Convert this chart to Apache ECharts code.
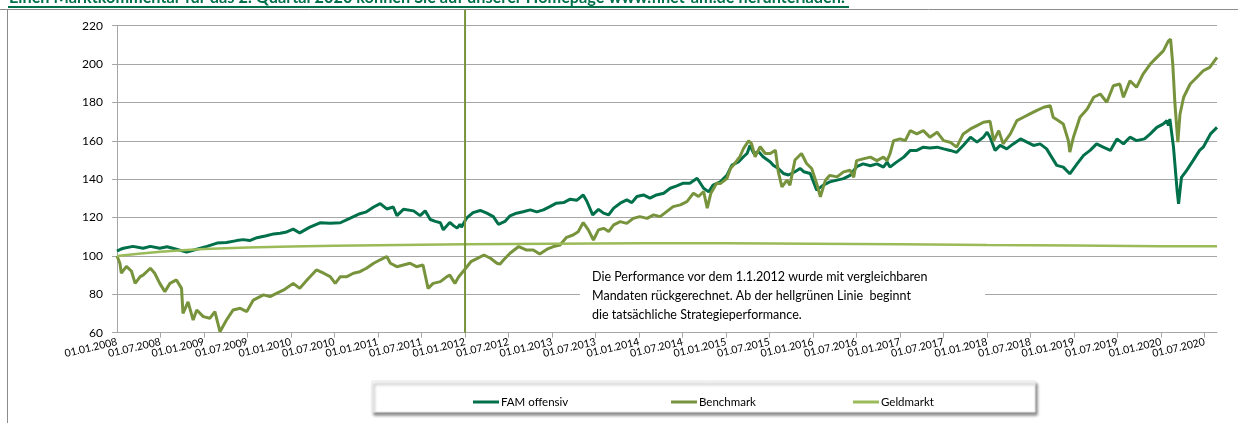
<!DOCTYPE html>
<html>
<head>
    <meta charset="utf-8">
    <title>FAM offensiv</title>
    <script type="text/javascript" src="https://cdn.jsdelivr.net/npm/echarts@6/dist/echarts.min.js"></script>
    <style type="text/css">
        html, body { margin: 0; padding: 0; background: #fff; }
        #chart { width: 1238px; height: 423px; }
    </style>
</head>
<body>
<div id="chart"></div>
<script type="text/javascript">
    // x = Monate seit 01.01.2008
    let famOffensiv = [
        [0,102.5],[0.5,103.5],[0.9,104],[2.2,105],[3.6,104],[4.6,105],[5.9,104],[6.9,104.8],[8.2,103.5],[9.6,102],
        [11,103.5],[12.4,105],[13.8,106.7],[15.1,107],[16.5,108],[17.4,108.5],[18.3,108],[19.3,109.5],[20.6,110.5],
        [21.6,111.5],[22.5,111.8],[23.4,112.5],[24.3,114],[25.2,112],[26.6,115],[28,117.3],[29.4,117],[30.8,117.3],
        [32.1,119.6],[33.5,122],[34.4,123],[35.4,125.5],[36.3,127.3],[37.2,124.5],[38.1,125.5],[38.6,121],[39.5,124.3],
        [40.9,123.5],[41.8,121],[42.5,123.5],[43.2,119],[43.9,118],[44.6,117.3],[45,113.6],[45.9,117.5],[46.4,115.8],
        [46.9,114.5],[47.3,116.5],[47.5,115],[48.2,119.7],[49.1,122.6],[50.1,123.7],[51,122.3],[51.9,120.5],[52.6,116.5],
        [53.5,118],[54.2,120.9],[55.1,122.3],[56,123],[57,124],[57.9,123],[58.8,124],[59.7,125.7],[60.6,127.5],
        [61.6,127.8],[62.5,129.6],[63.4,129],[64.3,131.8],[64.8,128.5],[65.6,121.4],[66.4,124.3],[67.1,122.3],
        [67.8,121.4],[68.5,124.9],[69.4,127.5],[70.3,129.2],[71,127.8],[71.7,131],[72.6,131.8],[73.5,130.1],
        [74.4,131.8],[75.4,132.7],[76.3,135.3],[77.2,136.5],[78.1,137.9],[79,137.9],[80,140.5],[80.9,135.3],
        [81.6,133.4],[82.2,136.9],[83.2,138.6],[84.1,142],[84.8,147.3],[85.7,149],[86.4,151.7],[86.9,153.4],
        [87.3,157.7],[87.8,153.4],[88.5,154.3],[89.1,151.7],[90.1,149],[90.5,147.3],[91.2,145.6],[91.9,143],
        [92.6,142.2],[93.5,143.9],[94.2,145.6],[94.7,143.9],[95.6,143],[96.5,134.3],[97.4,136.9],[98.3,138.6],
        [99.3,139.5],[100.2,140.3],[101.1,142],[102,146.5],[102.9,148],[103.9,147],[104.8,148],[105.7,146.3],
        [106.2,148.9],[106.6,146.3],[107.5,148.9],[108.5,151.5],[109.4,155],[110.3,155],[111.2,156.7],[112.1,156.3],
        [113.1,156.7],[114,155.8],[114.9,155],[115.8,154],[116.7,157.6],[117.7,161.9],[118.6,159.3],[119.5,161.9],
        [120,164.5],[120.4,161.9],[121.1,155],[121.8,157.6],[122.7,155.8],[123.6,158.4],[124.6,161],[125.5,159.3],
        [126.4,157.6],[127.3,158.4],[128.2,155.8],[128.9,151.5],[129.6,147.2],[130.5,146.3],[131.4,142.8],
        [132.4,148],[133.3,152.4],[134.2,155],[135.1,158.4],[136,156.7],[137,155],[137.9,161],[138.8,158.4],
        [139.7,161.9],[140.6,160.1],[141.7,161],[142.5,163.6],[143.4,167],[144.3,168.8],[144.8,170.5],[145,167.9],
        [145.2,171.4],[145.7,156.7],[146.2,134.1],[146.4,127.2],[146.8,141],[147.5,144.5],[148.4,149.7],
        [149.3,155],[149.8,156.7],[150.8,163.6],[151.7,167]
    ];
    let benchmark = [
        [0,100],[0.4,96.2],[0.6,91],[1.3,94.6],[2,92],[2.5,85.7],[3.2,89.2],[3.6,90],[4.6,93.6],[5.2,91],[5.9,85.7],
        [6.6,81.4],[7.3,85.7],[8.2,87.5],[8.9,83.1],[9.1,70],[9.8,76.1],[10.5,66.6],[11,71.8],[11.9,68.4],[12.8,67.5],
        [13.5,71],[14.2,60.5],[15.1,66.6],[16,71.8],[17,72.7],[17.9,71],[18.8,77],[20.2,79.7],[21.1,78.8],[22,80.5],
        [23,82.3],[24.3,85.7],[25.2,83.1],[26.2,87.5],[27.5,92.7],[28.5,91],[29.4,89.2],[30.1,85.7],[30.8,89.2],
        [31.7,89.2],[32.6,91],[33.5,91.8],[34.4,93.6],[35.4,96.2],[36.3,98],[37.2,99.7],[37.7,96.2],[38.6,94.4],
        [39.5,95.3],[40.4,96.2],[41.3,94.4],[42.2,95.3],[42.9,83.1],[43.6,85.7],[44.6,86.6],[45.5,89.2],[45.9,90],
        [46.6,85.7],[47.1,89],[47.9,92.7],[48.8,97],[49.7,98.7],[50.6,100.5],[51.5,98.8],[52.4,96.2],[52.8,95.7],
        [53.3,97.9],[54.2,101.4],[55.4,104.9],[56.5,103.1],[57.4,103.1],[58.3,101],[59.3,103.5],[60.2,104.9],
        [61.1,105.7],[62,109.7],[62.9,110.9],[63.6,112.6],[64.3,117.4],[65,113.6],[65.7,108.3],[66.4,113.6],
        [67.1,114.4],[67.8,112.7],[68.5,116.2],[69.4,117.9],[70.3,117],[71.2,119.6],[72.1,120.5],[73.1,119.6],
        [74,121.4],[74.9,120.5],[75.8,123.1],[76.7,125.7],[77.7,126.6],[78.6,128.3],[79.5,132.7],[80.2,131],
        [80.9,133.6],[81.4,124.9],[81.9,132.7],[82.7,137.9],[83.2,137.7],[84.1,140.3],[84.6,145.6],[85.2,148.2],
        [85.9,151.7],[86.4,156],[87.1,160],[87.5,158.6],[88,151.7],[88.7,156.9],[89.4,153.4],[90.1,153.4],
        [90.8,155.1],[91.2,143.8],[91.7,136],[92.4,139.5],[92.8,136.9],[93.5,150],[94.4,153.4],[95.1,148.2],
        [95.8,145.6],[96.5,137.7],[97,130.8],[97.7,139.5],[98.3,142],[99.3,141.2],[100.2,143.8],[101.1,144.7],
        [101.6,141],[102,149.7],[102.9,150.6],[103.9,151.5],[104.8,149.7],[105.7,151.5],[106.2,149.7],[106.6,153.2],
        [107.1,160.1],[108,161],[108.7,160.1],[109.4,165.3],[110.3,163.6],[111.2,165.3],[112.1,161.9],[113.1,164.5],
        [114,160.1],[114.9,159.3],[115.8,156.7],[116.7,163.6],[117.7,166.2],[118.6,167.9],[119.5,169.7],[120.4,170.2],
        [120.9,160],[121.6,165.3],[122.2,158.4],[123.2,163.6],[124.1,170.5],[125,172.3],[125.9,174],[126.8,175.7],
        [127.8,177.5],[128.7,178.3],[129.1,172.3],[129.8,170.6],[130.5,168.8],[131.2,160.1],[131.4,154.1],
        [131.9,161.9],[132.8,172.3],[133.8,176.6],[134.7,182.7],[135.6,184.4],[136.5,180.1],[137.4,188.7],
        [138.3,189.6],[138.8,182.7],[139.7,191.3],[140.6,187.9],[141.5,194.8],[142.5,200],[143.4,203.5],
        [144.3,206.9],[145,212.1],[145.3,213],[145.6,200],[145.9,179.2],[146.3,159.3],[146.6,174],[147.1,182.7],
        [148,189.6],[148.9,193],[149.8,196.5],[150.7,198.3],[151.7,203.5]
    ];
    let geldmarkt = [
        [0,100],[3,101.2],[6,102.2],[9,103],[12,103.6],[18,104.4],[24,104.9],[30,105.3],[36,105.6],[48,106.1],
        [60,106.4],[72,106.6],[84,106.6],[96,106.4],[108,106.1],[120,105.7],[132,105.4],[144,105.1],[151.7,105]
    ];
    let seriesNames = ['FAM offensiv', 'Benchmark', 'Geldmarkt'];
    let seriesColors = ['#00704a', '#77933c', '#9bbb59'];
    let startMonth = 48; // 01.01.2012
    let lastMonth = 151.7;
    let annotation = [
        'Die Performance vor dem 1.1.2012 wurde mit vergleichbaren',
        'Mandaten rückgerechnet. Ab der hellgrünen Linie  beginnt',
        'die tatsächliche Strategieperformance.'
    ];
    let headline = 'Einen Marktkommentar für das 2. Quartal 2020 können Sie auf unserer Homepage www.finet-am.de herunterladen.';

    let font = 'Lato, "Open Sans", sans-serif';
    let labelRotate = 13;
    let labelMargin = 9;
    let labelSize = 10.5;

    function monthLabel(m) {
        let year = 2008 + Math.floor(m / 12);
        let month = (m % 12) + 1;
        return '01.' + (month < 10 ? '0' + month : month) + '.' + year;
    }

    let chart = echarts.init(document.getElementById('chart'), null, {renderer: 'canvas'});

    let seriesData = [famOffensiv, benchmark, geldmarkt];
    let series = seriesNames.map(function (name, i) {
        return {
            name: name,
            type: 'line',
            data: seriesData[i],
            showSymbol: false,
            symbol: 'none',
            smooth: false,
            z: 3 + i,
            lineStyle: {color: seriesColors[i], width: i === 2 ? 2.5 : 3},
            itemStyle: {color: seriesColors[i]}
        };
    });

    let legendLefts = [468, 666, 848];
    let legends = seriesNames.map(function (name, i) {
        return {
            data: [name],
            left: legendLefts[i],
            top: 391,
            icon: 'rect',
            itemWidth: 26,
            itemHeight: 3,
            itemGap: 2,
            textStyle: {fontFamily: font, fontSize: 11.5, color: '#000', padding: [0, 0, 0, -3]}
        };
    });

    let option = {
        animation: false,
        backgroundColor: '#fff',
        grid: {left: 117, right: 21, top: 25.7, bottom: 90.3},
        legend: legends,
        xAxis: {
            type: 'value',
            min: 0,
            max: lastMonth,
            interval: 6,
            axisLine: {show: true, lineStyle: {color: '#a6a6a6', width: 1}},
            axisTick: {show: true, length: 5, lineStyle: {color: '#a6a6a6'}},
            splitLine: {show: false},
            axisLabel: {
                rotate: labelRotate,
                margin: labelMargin,
                fontFamily: font,
                fontSize: labelSize,
                color: '#000',
                showMinLabel: false,
                showMaxLabel: false,
                formatter: function (v) { return monthLabel(v); }
            }
        },
        yAxis: {
            type: 'value',
            min: 60,
            max: 220,
            interval: 20,
            axisLine: {show: true, lineStyle: {color: '#a6a6a6', width: 1}},
            axisTick: {show: true, length: 5, lineStyle: {color: '#a6a6a6'}},
            splitLine: {show: true, lineStyle: {color: '#a6a6a6', width: 1}},
            axisLabel: {margin: 14, fontFamily: font, fontSize: 12, color: '#000'}
        },
        series: series
    };
    chart.setOption(option);

    // Rahmen, Überschrift, Legendenkasten, Hinweis, Startlinie und erstes Datum
    let startX = chart.convertToPixel({xAxisIndex: 0}, startMonth);
    let firstX = chart.convertToPixel({xAxisIndex: 0}, 0);
    let bottomY = chart.convertToPixel({yAxisIndex: 0}, 60);
    chart.setOption({
        graphic: [
            {type: 'line', shape: {x1: 0, y1: 9.5, x2: 1238, y2: 9.5}, style: {stroke: '#8c8c8c', lineWidth: 1}, z: 1},
            {type: 'line', shape: {x1: 7.5, y1: 9.5, x2: 7.5, y2: 423}, style: {stroke: '#8c8c8c', lineWidth: 1}, z: 1},
            {type: 'text', left: 9, top: -10, style: {text: headline, fontFamily: font, fontWeight: 'bold', fontSize: 16.3, fill: '#00704a'}, z: 10},
            {type: 'line', shape: {x1: 8, y1: 7, x2: 849, y2: 7}, style: {stroke: '#00704a', lineWidth: 2}, z: 10},
            {type: 'line', shape: {x1: startX, y1: 10, x2: startX, y2: bottomY}, style: {stroke: '#77933c', lineWidth: 2}, z: 20},
            {
                type: 'text', x: firstX, y: bottomY + labelMargin, rotation: labelRotate * Math.PI / 180,
                style: {text: monthLabel(0), fontFamily: font, fontSize: labelSize, fill: '#000', align: 'right', verticalAlign: 'middle'},
                z: 10
            },
            {
                type: 'rect', shape: {x: 372, y: 381, width: 663, height: 31},
                style: {fill: '#fff', stroke: '#e6e6e6', lineWidth: 1, shadowColor: 'rgba(0,0,0,0.45)', shadowBlur: 3, shadowOffsetX: 2, shadowOffsetY: 3},
                z: 0
            },
            {type: 'rect', shape: {x: 580, y: 262, width: 405, height: 64}, style: {fill: '#fff'}, z: 30},
            {
                type: 'text', left: 592, top: 267,
                style: {text: annotation.join('\n'), fontFamily: font, fontSize: 12.5, lineHeight: 19, fill: '#000'},
                z: 31
            }
        ]
    });
</script>
</body>
</html>
